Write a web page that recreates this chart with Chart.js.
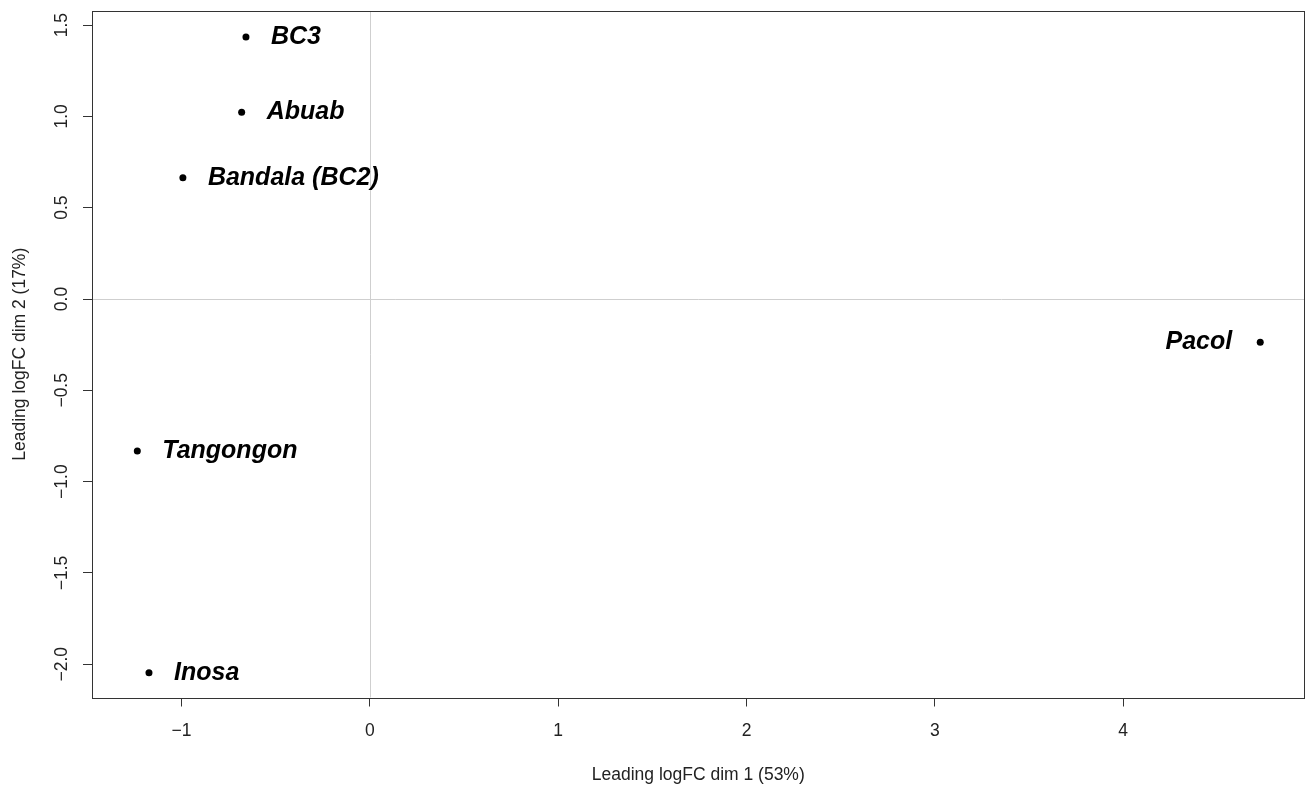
<!DOCTYPE html>
<html>
<head>
<meta charset="utf-8">
<script src="https://cdn.jsdelivr.net/npm/chart.js@4.4.1/dist/chart.umd.min.js"></script>
<style>
  html, body { margin: 0; padding: 0; background: #fff; }
  #wrap { width: 1308px; height: 787px; position: relative; }
</style>
</head>
<body>
<div id="wrap"><canvas id="mds"></canvas></div>
<script>
// MDS plot of samples: leading logFC dimensions 1 and 2
const samples = ["BC3", "Abuab", "Bandala (BC2)", "Pacol", "Tangongon", "Inosa"];
const dim1 = [-0.658, -0.681, -0.993, 4.728, -1.235, -1.173];
const dim2 = [1.434, 1.022, 0.664, -0.237, -0.832, -2.046];

const xTicks = [-1, 0, 1, 2, 3, 4];
const yTicks = [-2.0, -1.5, -1.0, -0.5, 0.0, 0.5, 1.0, 1.5];
const xTitle = "Leading logFC dim 1 (53%)";
const yTitle = "Leading logFC dim 2 (17%)";

const AXIS_FONT = '17.5px "Liberation Sans", Arial, sans-serif';
const LABEL_FONT = 'italic bold 25px "Liberation Sans", Arial, sans-serif';
const INK = '#222';

function fmtX(v) { return (v < 0 ? '\u2212' : '') + Math.abs(v).toString(); }
function fmtY(v) { return (v < 0 ? '\u2212' : '') + Math.abs(v).toFixed(1); }

const points = dim1.map((x, i) => ({ x: x, y: dim2[i] }));

// zero reference lines, drawn under the points
const zeroLines = {
  id: 'zeroLines',
  beforeDatasetsDraw(chart) {
    const { ctx, chartArea: a, scales: { x, y } } = chart;
    ctx.save();
    ctx.strokeStyle = '#cfcfcf';
    ctx.lineWidth = 1;
    const px = Math.round(x.getPixelForValue(0)) + 0.5;
    const py = Math.round(y.getPixelForValue(0)) + 0.5;
    ctx.beginPath();
    ctx.moveTo(px, a.top); ctx.lineTo(px, a.bottom);
    ctx.moveTo(a.left, py); ctx.lineTo(a.right, py);
    ctx.stroke();
    ctx.restore();
  }
};

// frame, tick labels, axis titles and sample names
const decorations = {
  id: 'decorations',
  afterDatasetsDraw(chart) {
    const { ctx, chartArea: a, scales: { x, y } } = chart;
    ctx.save();
    ctx.strokeStyle = '#333';
    ctx.lineWidth = 1;
    ctx.strokeRect(Math.round(a.left) + 0.5, Math.round(a.top) + 0.5,
                   Math.round(a.right - a.left) - 1, Math.round(a.bottom - a.top));

    ctx.fillStyle = INK;
    ctx.font = AXIS_FONT;
    ctx.textAlign = 'center';
    ctx.textBaseline = 'middle';
    xTicks.forEach(v => ctx.fillText(fmtX(v), x.getPixelForValue(v), a.bottom + 34));
    yTicks.forEach(v => {
      ctx.save();
      ctx.translate(a.left - 30, y.getPixelForValue(v));
      ctx.rotate(-Math.PI / 2);
      ctx.fillText(fmtY(v), 0, 0);
      ctx.restore();
    });

    ctx.fillText(xTitle, (a.left + a.right) / 2, a.bottom + 78);
    ctx.save();
    ctx.translate(a.left - 72, (a.top + a.bottom) / 2);
    ctx.rotate(-Math.PI / 2);
    ctx.fillText(yTitle, 0, 0);
    ctx.restore();

    ctx.fillStyle = '#000';
    ctx.font = LABEL_FONT;
    ctx.textBaseline = 'middle';
    samples.forEach((name, i) => {
      const px = x.getPixelForValue(dim1[i]);
      const py = y.getPixelForValue(dim2[i]);
      const w = ctx.measureText(name).width;
      if (px + 26 + w > a.right) {
        ctx.textAlign = 'right';
        ctx.fillText(name, px - 28, py);
      } else {
        ctx.textAlign = 'left';
        ctx.fillText(name, px + 25, py);
      }
    });
    ctx.restore();
  }
};

new Chart(document.getElementById('mds'), {
  type: 'scatter',
  data: {
    datasets: [{
      data: points,
      backgroundColor: '#000',
      borderColor: '#000',
      pointRadius: 3.5,
      pointHoverRadius: 3.5,
      borderWidth: 0
    }]
  },
  options: {
    responsive: true,
    maintainAspectRatio: false,
    animation: false,
    events: [],
    layout: { padding: { left: 0, top: 11, right: 3, bottom: 0 } },
    plugins: { legend: { display: false }, tooltip: { enabled: false } },
    scales: {
      x: {
        type: 'linear',
        min: -1.4756,
        max: 4.963,
        afterBuildTicks: s => { s.ticks = xTicks.map(v => ({ value: v })); },
        afterFit: s => { s.height = 89.5; },
        ticks: { display: false },
        border: { display: false },
        grid: { drawOnChartArea: false, drawTicks: true, tickLength: 9, tickColor: '#333', lineWidth: 1 }
      },
      y: {
        type: 'linear',
        min: -2.182,
        max: 1.577,
        afterBuildTicks: s => { s.ticks = yTicks.map(v => ({ value: v })); },
        afterFit: s => { s.width = 92; },
        ticks: { display: false },
        border: { display: false },
        grid: { drawOnChartArea: false, drawTicks: true, tickLength: 9, tickColor: '#333', lineWidth: 1 }
      }
    }
  },
  plugins: [zeroLines, decorations]
});
</script>
</body>
</html>
